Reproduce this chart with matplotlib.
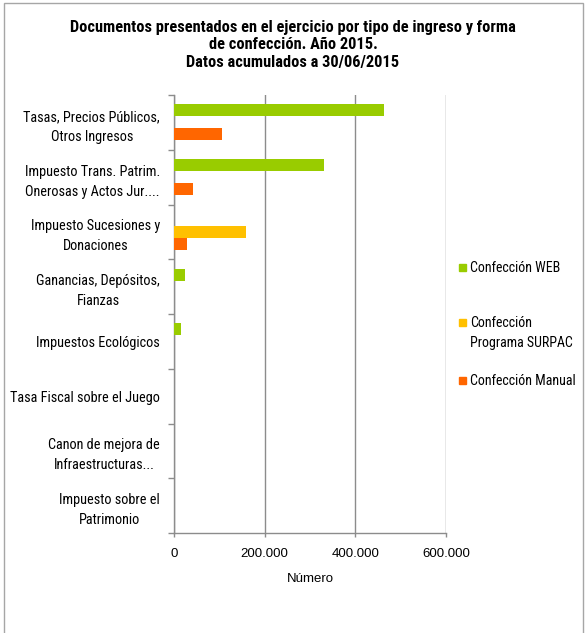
import matplotlib
matplotlib.use("Agg")
import matplotlib.pyplot as plt
import numpy as np
from matplotlib.patches import Rectangle
from matplotlib.ticker import FuncFormatter, FixedLocator

categories = [
    "Tasas, Precios Públicos,\nOtros Ingresos",
    "Impuesto Trans. Patrim.\nOnerosas y Actos Jur....",
    "Impuesto Sucesiones y\nDonaciones",
    "Ganancias, Depósitos,\nFianzas",
    "Impuestos Ecológicos",
    "Tasa Fiscal sobre el Juego",
    "Canon de mejora de\nInfraestructuras...",
    "Impuesto sobre el\nPatrimonio",
]
series_names = ["Confección WEB", "Confección\nPrograma SURPAC", "Confección Manual"]
web = [463000, 330000, 0, 24000, 16000, 0, 0, 0]
surpac = [0, 0, 158000, 0, 0, 0, 0, 0]
manual = [106000, 42000, 29000, 0, 0, 0, 0, 0]
colors = ["#99CC00", "#FFC000", "#FF6600"]
xticks = [0, 200000, 400000, 600000]
title = "Documentos presentados en el ejercicio por tipo de ingreso y forma\nde confección. Año 2015.\nDatos acumulados a 30/06/2015"
xlabel = "Número"

narrow = ["Roboto Condensed", "DejaVu Sans"]
arial = ["Liberation Sans", "DejaVu Sans"]
grey = "#8C8C8C"

fig = plt.figure(figsize=(5.86, 6.33), dpi=100)
ax = fig.add_axes([174/586, 100/633, (446-174)/586, (533-95)/633])

y = np.arange(len(categories))
h = 0.219
for i, (vals, c) in enumerate(zip([web, surpac, manual], colors)):
    ax.barh(y + (i - 1) * h, vals, height=h, color=c, edgecolor="none", zorder=3)

ax.set_ylim(len(categories) - 0.5, -0.5)
ax.set_xlim(0, 600000)
ax.set_xticks(xticks)
ax.xaxis.set_major_formatter(FuncFormatter(lambda v, p: f"{int(v):,}".replace(",", ".")))
ax.set_yticks(y)
ax.set_yticklabels(categories, family=narrow, fontstretch="condensed", fontsize=10.3,
                   ha="right", multialignment="center", linespacing=1.55)
ax.yaxis.set_minor_locator(FixedLocator(np.arange(-0.5, len(categories), 1.0)))
ax.tick_params(axis="y", which="major", length=0, pad=10)
ax.tick_params(axis="y", which="minor", length=4, color=grey, width=1)
ax.tick_params(axis="x", which="major", length=3, color=grey, width=1, pad=8, labelsize=9.5)
for lab in ax.get_xticklabels():
    lab.set_family(arial)
ax.grid(axis="x", color=grey, linewidth=1, zorder=0)
for s in ["top", "right"]:
    ax.spines[s].set_visible(False)
for s in ["left", "bottom"]:
    ax.spines[s].set_color(grey)
    ax.spines[s].set_linewidth(1)
ax.set_xlabel(xlabel, family=arial, fontsize=9.5, labelpad=9)

fig.text(0.5, 1 - 20/633, title, ha="center", va="top", family=narrow, fontstretch="condensed",
         fontsize=11.8, fontweight="bold", linespacing=1.2)

# legend
leg_y = [267, 322, 380]
for name, c, ly in zip(series_names, colors, leg_y):
    fig.patches.append(Rectangle((459/586, 1 - (ly + 4)/633), 7/586, 7/633,
                                 transform=fig.transFigure, color=c))
    fig.text(470/586, 1 - (ly - 6)/633, name, ha="left", va="top", family=narrow,
             fontstretch="condensed", fontsize=10, linespacing=1.55)

# chart border
fig.patches.append(Rectangle((4/586, -0.05), 579/586, 1.05 - 3/633, transform=fig.transFigure,
                             fill=False, edgecolor="#A6A6A6", linewidth=1))

fig.savefig("out.png", dpi=100)
